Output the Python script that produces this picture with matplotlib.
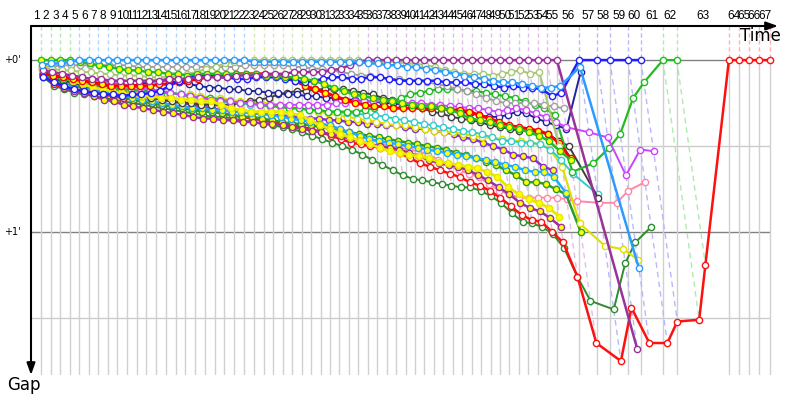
import numpy as np
import matplotlib.pyplot as plt
import matplotlib.transforms as mtransforms

# leader lap times (minutes), laps 1..67
leader_lap_time = [0.42, 0.40, 0.40, 0.40, 0.40, 0.40, 0.39, 0.39, 0.40, 0.40,
                   0.40, 0.40, 0.41, 0.41, 0.41, 0.40, 0.41, 0.41, 0.40, 0.41,
                   0.40, 0.41, 0.41, 0.41, 0.41, 0.39, 0.40, 0.39, 0.39, 0.40,
                   0.39, 0.39, 0.40, 0.39, 0.39, 0.40, 0.39, 0.39, 0.40, 0.39,
                   0.39, 0.40, 0.39, 0.39, 0.40, 0.39, 0.39, 0.40, 0.39, 0.39,
                   0.40, 0.39, 0.39, 0.40, 0.40, 0.92, 0.75, 0.54, 0.75, 0.54,
                   0.92, 0.58, 2.17, 0.42, 0.42, 0.42, 0.46]

# gaps to leader (minutes) per lap, None = no crossing
gap_lightblue = [.03, .02, .02, .01, 0, 0, 0, 0, 0, 0,
                 0, 0, 0, 0, 0, 0, 0, 0, 0, 0,
                 0, 0, .01, .01, .01, .01, .01, .01, .01, .01,
                 .01, .01, .01, .01, .02, .02, .03, .03, .04, .04,
                 .05, .06, .07, .08, .09, .10, .11, .12, .13, .13,
                 .14, .15, .16, .16, .15, .04, None, 1.21]
gap_green_y = [0, 0, 0, 0, .01, .02, .03, .04, .05, .06,
               .06, .07, .07, .08, .08, .09, .08, .08, .08, .08,
               .08, .08, .08, .09, .09, .10, .10, .11, .12, .14,
               .16, .18, .20, .21, .22, .23, .24, .25, .26, .27,
               .27, .28, .29, .31, .34, .35, .36, .38, .39, .40,
               .42, .44, .47, .53, .58]
gap_red_y = [.07, .09, .10, .11, .12, .13, .14, .15, .15, .15,
             .15, .15, .14, .14, .13, .12, .11, .10, .09, .09,
             .08, .08, .08, .08, .09, .10, .12, .15, .17, .19,
             .21, .23, .25, .26, .27, .27, .28, .28, .28, .28,
             .28, .28, .29, .29, .30, .32, .34, .36, .38, .39,
             .40, .41, .43, .48, .57]
gap_yellow = [.03, .06, .09, .12, .14, .16, .17, .18, .19, .20,
              .21, .21, .22, .22, .23, .23, .24, .24, .26, .28,
              .29, .30, .30, .30, .30, .31, .32, .35, .38, .40,
              .43, .45, .47, .49, .51, .53, .54, .55, .56, .57,
              .59, .60, .61, .62, .63, .65, .68, .74, .78, .81,
              .83, .86, .91]
gap_yellow_thin = [.05, .07, .08, .10, .11, .12, .13, .14, .15, .16,
                   .17, .17, .18, .19, .20, .20, .21, .22, .22, .23,
                   .24, .24, .25, .25, .26, .27, .28, .29, .30, .31,
                   .32, .33, .34, .35, .36, .37, .38, .38, .39, .40,
                   .41, .42, .42, .43, .44, .45, .45, .46, .47, .47,
                   .48, .49, .52, .62, .95, 1.08, 1.10, 1.16]
gap_purple_y = [.09, .13, .16, .18, .19, .21, .23, .24, .26, .27,
                .28, .29, .30, .31, .32, .33, .34, .34, .35, .35,
                .36, .36, .37, .37, .38, .39, .40, .41, .42, .43,
                .44, .46, .47, .49, .50, .51, .52, .54, .56, .58,
                .60, .61, .62, .64, .67, .70, .74, .78, .83, .86,
                .88, .92, .97]
gap_violet = [.07, .08, .09, .10, .10, .11, .12, .13, .14, .15,
              .16, .17, .18, .19, .20, .21, .22, .23, .24, .24,
              .25, .25, .26, .26, .26, .26, .26, .26, .26, .26,
              .25, .25, .24, .24, .24, .24, .24, .25, .25, .25,
              .26, .26, .27, .27, .28, .28, .29, .30, .29, .28,
              .29, .31, .33, .36, .39, .42, .45, .67, .52, .53]
gap_blue = [.10, .13, .15, .17, .18, .19, .20, .20, .21, .20,
            .20, .19, .18, .15, .12, .10, .09, .09, .10, .10,
            .11, .11, .10, .10, .10, .11, .12, .13, .12, .11,
            .10, .10, .11, .11, .10, .10, .11, .12, .12, .12,
            .12, .12, .13, .13, .13, .14, .14, .15, .16, .15,
            .16, .16, .17, .21, .19, 0, 0, 0, 0, 0]
gap_navy = [.08, .09, .10, .11, .12, .13, .14, .15, .15, .15,
            .14, .13, .12, .12, .13, .14, .15, .16, .16, .17,
            .17, .18, .18, .19, .19, .20, .20, .21, .21, .22,
            .22, .23, .23, .24, .24, .25, .25, .26, .26, .27,
            .27, .28, .29, .30, .31, .32, .33, .33, .32, .30,
            .31, .34, .36, .38, .40, .07]
gap_gray = [.04, .04, .03, .03, .03, .03, .03, .03, .03, .03,
            .04, .04, .04, .04, .04, .04, .04, .04, .04, .04,
            .04, .03, .03, .03, .03, .03, .04, .04, .05, .05,
            .06, .07, .08, .09, .09, .10, .11, .11, .12, .12,
            .13, .14, .15, .17, .18, .20, .22, .24, .25, .25,
            .25, .25, .26, .27, .28]
gap_olive = [.05, .05, .06, .06, .07, .07, .08, .08, .09, .09,
             .09, .10, .10, .10, .09, .08, .07, .05, .04, .02,
             .01, 0, 0, 0, 0, 0, 0, 0, 0, 0,
             0, 0, 0, 0, .01, .01, .01, .01, .02, .02,
             .03, .04, .06, .07, .08, .08, .08, .09, .08, .07,
             .06, .08, .07, .50]
gap_purple = [.06, .07, .08, .09, .10, .11, .11, .12, .12, .12,
              .12, .12, .12, .11, .11, .11, .10, .10, .10, .10,
              .09, .09, .09, .08, .08, .08, .07, .07, .07, .07,
              .06, .05, .03, .01, 0, 0, 0, 0, 0, 0,
              0, 0, 0, 0, 0, 0, 0, 0, 0, 0,
              0, 0, 0, 0, 0, None, 1.68]
gap_green = [.09, .10, .11, .12, .13, .14, .15, .16, .17, .17,
             .18, .18, .19, .19, .20, .21, .22, .22, .23, .24,
             .25, .25, .26, .27, .27, .28, .28, .29, .29, .30,
             .30, .30, .30, .29, .28, .26, .24, .22, .20, .19,
             .18, .17, .17, .17, .18, .18, .19, .20, .21, .22,
             .24, .26, .28, .32, .65, .60, .51, .43, .22, .13,
             0, 0]
gap_black = [.08, .11, .12, .13, .15, .16, .17, .18, .19, .20,
             .21, .22, .23, .24, .25, .25, .26, .26, .26, .26,
             .25, .24, .23, .22, .20, .19, .18, .18, .17, .17,
             .17, .17, .18, .19, .20, .22, .23, .25, .27, .28,
             .30, .31, .33, .34, .35, .36, .38, .39, .40, .41,
             .41, .42, .43, .47, .50, .80]
gap_teal = [.06, .07, .08, .09, .10, .11, .12, .13, .14, .15,
            .16, .17, .18, .19, .20, .21, .22, .23, .24, .25,
            .25, .26, .26, .27, .27, .28, .28, .29, .29, .30,
            .30, .31, .31, .32, .32, .33, .34, .35, .36, .37,
            .38, .39, .40, .41, .42, .43, .45, .47, .47, .48,
            .48, .49, .52, .58, .66, .78]
gap_lightblue_y = [.08, .11, .13, .14, .15, .17, .18, .19, .20, .22,
                   .23, .24, .25, .26, .27, .28, .28, .29, .29, .30,
                   .30, .31, .31, .32, .33, .34, .35, .36, .37, .38,
                   .40, .42, .44, .46, .47, .48, .49, .50, .51, .52,
                   .53, .54, .55, .56, .57, .58, .59, .61, .62, .64,
                   .65, .65, .68, .77]
gap_dkgreen_y = [.08, .12, .13, .15, .16, .17, .19, .20, .21, .23,
                 .24, .25, .26, .27, .28, .29, .30, .30, .31, .32,
                 .33, .33, .34, .35, .36, .37, .37, .38, .39, .40,
                 .41, .42, .43, .44, .45, .46, .47, .48, .49, .50,
                 .51, .52, .54, .55, .57, .59, .61, .64, .67, .71,
                 .71, .72, .75, .78, 1.0]
gap_pink = [.05, .07, .09, .11, .12, .13, .15, .16, .17, .18,
            .19, .20, .21, .22, .23, .24, .25, .26, .27, .28,
            .29, .30, .31, .32, .33, .34, .35, .36, .37, .38,
            .40, .42, .44, .46, .48, .50, .51, .52, .53, .55,
            .58, .61, .64, .66, .68, .72, .76, .78, .80, .80,
            .80, .80, .80, .81, .82, .83, .83, .76, .71]
gap_violet_y = [.08, .10, .11, .12, .14, .15, .16, .17, .18, .20,
                .21, .22, .23, .24, .25, .26, .27, .28, .29, .30,
                .30, .31, .31, .32, .32, .33, .33, .34, .34, .35,
                .35, .36, .36, .37, .37, .38, .38, .39, .40, .40,
                .41, .42, .43, .45, .46, .48, .50, .52, .55, .56,
                .57, .62, .64]
gap_red = [.09, .14, .16, .17, .18, .19, .20, .21, .22, .23,
           .24, .25, .26, .27, .27, .28, .29, .30, .31, .32,
           .33, .34, .35, .36, .37, .38, .39, .40, .42, .44,
           .46, .48, .49, .50, .51, .52, .54, .57, .60, .62,
           .64, .66, .68, .71, .73, .76, .80, .85, .90, .93,
           .94, 1.0, 1.06, 1.26, 1.645, 1.75, 1.44, 1.645, 1.645, 1.52,
           1.51, 1.19, 0, 0, 0, 0, 0]
gap_dkgreen = [.10, .15, .17, .19, .20, .21, .22, .23, .24, .25,
               .26, .27, .28, .29, .30, .31, .32, .33, .33, .34,
               .35, .36, .37, .38, .39, .40, .42, .44, .46, .48,
               .50, .52, .55, .58, .61, .64, .67, .69, .70, .71,
               .72, .73, .74, .74, .76, .79, .83, .89, .94, .95,
               .97, 1.01, 1.09, 1.26, 1.40, 1.45, 1.18, 1.06, .97]

# (data, line colour, marker face, line width, light colour for leader marks)
series = [
    (gap_dkgreen, '#2e8b2e', 'white', 1.4, '#b8e0b8'),
    (gap_red, '#ff1010', 'white', 1.8, '#ffb0b0'),
    (gap_violet_y, '#8833cc', '#ffff00', 1.8, '#d8b8f0'),
    (gap_pink, '#ff88aa', 'white', 1.4, '#ffd0dd'),
    (gap_dkgreen_y, '#2a9a2a', '#ffff00', 1.8, '#b8e0b8'),
    (gap_lightblue_y, '#22aaff', '#ffff00', 1.8, '#b0dcff'),
    (gap_yellow_thin, '#dddd00', 'white', 1.5, '#f0f0a0'),
    (gap_teal, '#33cccc', 'white', 1.4, '#b8eeee'),
    (gap_black, '#404040', 'white', 1.4, '#c8c8c8'),
    (gap_green, '#22bb22', 'white', 1.6, '#b0eab0'),
    (gap_gray, '#a0a0a0', 'white', 1.4, '#dddddd'),
    (gap_navy, '#22229a', 'white', 1.4, '#b8b8e0'),
    (gap_violet, '#cc44ff', 'white', 1.4, '#ecc8ff'),
    (gap_purple_y, '#993399', '#ffff00', 1.8, '#e0c0e0'),
    (gap_yellow, '#e6e600', '#ffff00', 2.0, '#f0f0a0'),
    (gap_red_y, '#ff0000', '#ffff00', 2.2, '#ffb0b0'),
    (gap_olive, '#aac870', 'white', 1.5, '#d8e8b8'),
    (gap_blue, '#1f1fff', 'white', 1.8, '#b8b8ff'),
    (gap_green_y, '#22bb22', '#ffff00', 1.8, '#b8e8b8'),
    (gap_purple, '#993399', 'white', 1.8, '#e0c0e8'),
    (gap_lightblue, '#2b9cff', 'white', 1.8, '#b0d8ff'),
]

n_laps = len(leader_lap_time)
T = np.cumsum(leader_lap_time)
T_prev = np.concatenate([[0], T[:-1]])

def as_array(vals):
    vals = list(vals) + [None] * (n_laps - len(vals))
    return np.array([np.nan if v is None else v for v in vals], dtype=float)

gaps = [as_array(s[0]) for s in series]

y_top, y_bottom = -0.198, 1.831
fig = plt.figure(figsize=(8, 4), dpi=100)
ax = fig.add_axes([31 / 800, 25 / 400, 747 / 800, 349 / 400])
ax.set_xlim(0, 747 / 24)
ax.set_ylim(y_bottom, y_top)
for s in ax.spines.values():
    s.set_visible(False)
ax.set_xticks([])
ax.set_yticks([])

# horizontal grid
ax.hlines([0.5, 1.5], 0, T[-1], colors='#cccccc', lw=1, zorder=1)
ax.hlines([0, 1], 0, T[-1], colors='#808080', lw=1, zorder=1)
# lap lines
ax.vlines(T, 0, y_bottom, colors='#d0d0d0', lw=1, zorder=1)

# leader colour per lap, and the lapping diagonals
all_gaps = np.vstack(gaps)
for k in range(n_laps):
    light = '#dddddd'
    for s, g in zip(series[::-1], gaps[::-1]):
        if g[k] == 0:
            light = s[4]
            break
    ax.plot([T[k], T[k]], [y_top, 0], color=light, lw=1, ls=(0, (3, 2)), zorder=1)
    deepest = np.nanmax(all_gaps[:, k])
    if deepest > 0:
        ax.plot([T[k], T[k] + deepest], [0, deepest], color=light, lw=1,
                ls=(0, (4, 3)), zorder=1.5)

# series
for (vals, color, face, lw, light), g in zip(series, gaps):
    m = ~np.isnan(g)
    ax.plot((T + g)[m], g[m], '-o', color=color, lw=lw, ms=4.5, mfc=face,
            mec=color, mew=1, zorder=3)

# axes arrows
ax.annotate('', xy=(1.0, 1.0), xytext=(0, 1.0), xycoords='axes fraction',
            arrowprops=dict(arrowstyle='-|>,head_length=0.7,head_width=0.25',
                            color='black', lw=1.5, shrinkA=0, shrinkB=0))
ax.annotate('', xy=(0, 0), xytext=(0, 1.0), xycoords='axes fraction',
            arrowprops=dict(arrowstyle='-|>,head_length=0.7,head_width=0.25',
                            color='black', lw=1.5, shrinkA=0, shrinkB=0))

# lap numbers
trans = mtransforms.blended_transform_factory(ax.transData, ax.transAxes)
for k in range(n_laps):
    ax.text((T_prev[k] + T[k]) / 2, 1.012, str(k + 1), transform=trans,
            ha='center', va='bottom', fontsize=8.5, family='Liberation Sans')

ytrans = mtransforms.blended_transform_factory(ax.transAxes, ax.transData)
ax.text(-0.014, 0, "+0'", transform=ytrans, ha='right', va='center', fontsize=7)
ax.text(-0.014, 1, "+1'", transform=ytrans, ha='right', va='center', fontsize=7)

fig.text(760 / 800, 1 - 36 / 400, 'Time', ha='center', va='center', fontsize=12)
fig.text(24 / 800, 1 - 385 / 400, 'Gap', ha='center', va='center', fontsize=12)

fig.savefig('out.png', dpi=100)
